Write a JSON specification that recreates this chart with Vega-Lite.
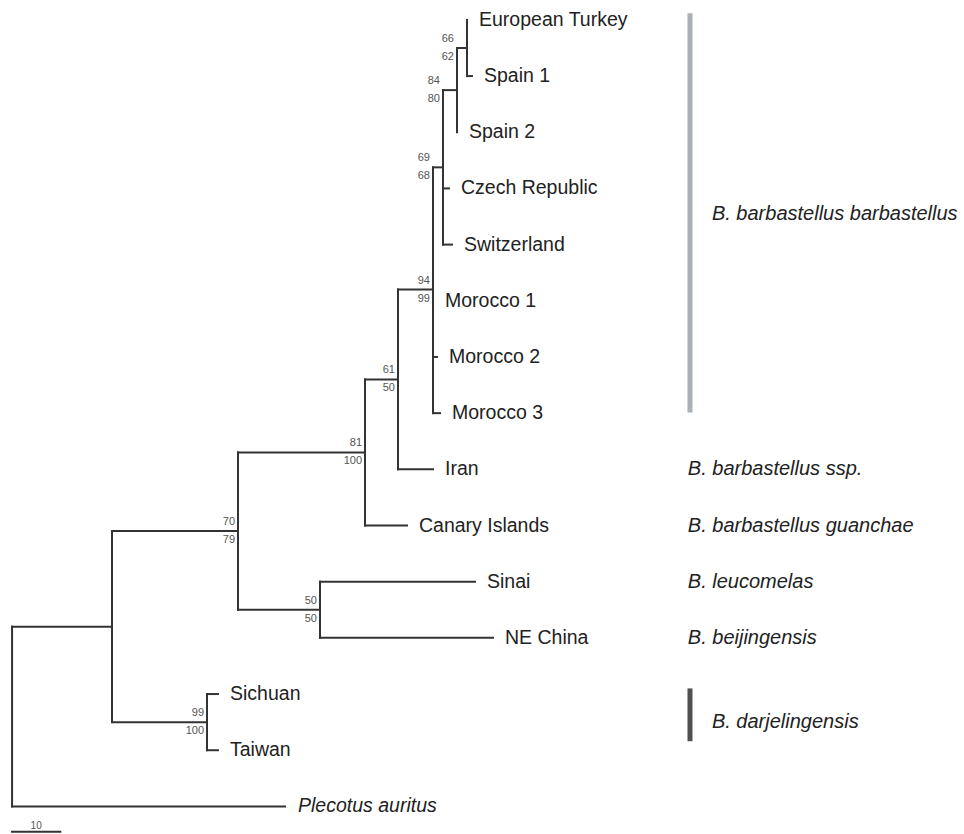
{
  "$schema": "https://vega.github.io/schema/vega-lite/v6.json",
  "width": 964,
  "height": 834,
  "autosize": {"type": "fit", "contains": "padding"},
  "padding": 0,
  "background": "white",
  "config": {"view": {"stroke": null}, "font": "Liberation Sans"},
  "datasets": {
    "segs": [
      {"x": 0, "x2": 0, "y": 10.8, "y2": 14},
      {"x": 0, "x2": 20.74, "y": 10.8, "y2": 10.8},
      {"x": 0, "x2": 56.63, "y": 14, "y2": 14},
      {"x": 20.74, "x2": 20.74, "y": 9.1, "y2": 12.5},
      {"x": 20.74, "x2": 46.88, "y": 9.1, "y2": 9.1},
      {"x": 20.74, "x2": 40.45, "y": 12.5, "y2": 12.5},
      {"x": 40.45, "x2": 40.45, "y": 12, "y2": 13},
      {"x": 40.45, "x2": 42.73, "y": 12, "y2": 12},
      {"x": 40.45, "x2": 42.73, "y": 13, "y2": 13},
      {"x": 46.88, "x2": 46.88, "y": 7.7, "y2": 10.5},
      {"x": 46.88, "x2": 73.23, "y": 7.7, "y2": 7.7},
      {"x": 46.88, "x2": 63.89, "y": 10.5, "y2": 10.5},
      {"x": 63.89, "x2": 63.89, "y": 10, "y2": 11},
      {"x": 63.89, "x2": 96.05, "y": 10, "y2": 10},
      {"x": 63.89, "x2": 99.78, "y": 11, "y2": 11},
      {"x": 73.23, "x2": 73.23, "y": 6.4, "y2": 9},
      {"x": 73.23, "x2": 80.07, "y": 6.4, "y2": 6.4},
      {"x": 73.23, "x2": 81.94, "y": 9, "y2": 9},
      {"x": 80.07, "x2": 80.07, "y": 4.8, "y2": 8},
      {"x": 80.07, "x2": 87.33, "y": 4.8, "y2": 4.8},
      {"x": 80.07, "x2": 87.33, "y": 8, "y2": 8},
      {"x": 87.33, "x2": 87.33, "y": 2.625, "y2": 7},
      {"x": 87.33, "x2": 89.41, "y": 2.625, "y2": 2.625},
      {"x": 87.33, "x2": 88.16, "y": 6, "y2": 6},
      {"x": 87.33, "x2": 88.79, "y": 7, "y2": 7},
      {"x": 89.41, "x2": 89.41, "y": 1.25, "y2": 4},
      {"x": 89.41, "x2": 92.31, "y": 1.25, "y2": 1.25},
      {"x": 89.41, "x2": 90.65, "y": 3, "y2": 3},
      {"x": 89.41, "x2": 91.28, "y": 4, "y2": 4},
      {"x": 92.31, "x2": 92.31, "y": 0.5, "y2": 2},
      {"x": 92.31, "x2": 94.39, "y": 0.5, "y2": 0.5},
      {"x": 94.39, "x2": 94.39, "y": 0, "y2": 1},
      {"x": 94.39, "x2": 95.42, "y": 1, "y2": 1},
      {"x": 0, "x2": 10, "y": 14.45, "y2": 14.45}
    ],
    "tips": [
      {"name": "European Turkey", "x": 94.39, "y": 0, "outgroup": false},
      {"name": "Spain 1", "x": 95.42, "y": 1, "outgroup": false},
      {"name": "Spain 2", "x": 92.31, "y": 2, "outgroup": false},
      {"name": "Czech Republic", "x": 90.65, "y": 3, "outgroup": false},
      {"name": "Switzerland", "x": 91.28, "y": 4, "outgroup": false},
      {"name": "Morocco 1", "x": 87.33, "y": 5, "outgroup": false},
      {"name": "Morocco 2", "x": 88.16, "y": 6, "outgroup": false},
      {"name": "Morocco 3", "x": 88.79, "y": 7, "outgroup": false},
      {"name": "Iran", "x": 87.33, "y": 8, "outgroup": false},
      {"name": "Canary Islands", "x": 81.94, "y": 9, "outgroup": false},
      {"name": "Sinai", "x": 96.05, "y": 10, "outgroup": false},
      {"name": "NE China", "x": 99.78, "y": 11, "outgroup": false},
      {"name": "Sichuan", "x": 42.73, "y": 12, "outgroup": false},
      {"name": "Taiwan", "x": 42.73, "y": 13, "outgroup": false},
      {"name": "Plecotus auritus", "x": 56.63, "y": 14, "outgroup": true}
    ],
    "boots": [
      {"x": 92.31, "y": 0.5, "above": "66", "below": "62"},
      {"x": 89.41, "y": 1.25, "above": "84", "below": "80"},
      {"x": 87.33, "y": 2.625, "above": "69", "below": "68"},
      {"x": 87.33, "y": 4.8, "above": "94", "below": "99"},
      {"x": 80.07, "y": 6.4, "above": "61", "below": "50"},
      {"x": 73.23, "y": 7.7, "above": "81", "below": "100"},
      {"x": 46.88, "y": 9.1, "above": "70", "below": "79"},
      {"x": 63.89, "y": 10.5, "above": "50", "below": "50"},
      {"x": 40.45, "y": 12.5, "above": "99", "below": "100"}
    ],
    "clades": [
      {"name": "B. barbastellus barbastellus", "x": 145.2, "y": 3.45},
      {"name": "B. barbastellus ssp.", "x": 140.2, "y": 8},
      {"name": "B. barbastellus guanchae", "x": 140.2, "y": 9},
      {"name": "B. leucomelas", "x": 140.2, "y": 10},
      {"name": "B. beijingensis", "x": 140.2, "y": 11},
      {"name": "B. darjelingensis", "x": 145.2, "y": 12.5}
    ],
    "bars": [
      {"group": "barbastellus", "x": 140.65, "y": -0.12, "y2": 6.99},
      {"group": "darjelingensis", "x": 140.65, "y": 11.9, "y2": 12.84}
    ],
    "scalebar": [{"label": "10", "x": 5, "y": 14.45}]
  },
  "layer": [
    {
      "data": {"name": "segs"},
      "mark": {"type": "rule", "color": "#333333", "strokeWidth": 2, "strokeCap": "square"},
      "encoding": {
        "x": {"field": "x", "type": "quantitative", "scale": {"domain": [-2.5, 197.5], "nice": false, "zero": false}, "axis": null},
        "x2": {"field": "x2"},
        "y": {"field": "y", "type": "quantitative", "scale": {"domain": [-0.354, 14.42], "nice": false, "zero": false, "reverse": true}, "axis": null},
        "y2": {"field": "y2"}
      }
    },
    {
      "data": {"name": "bars"},
      "transform": [{"filter": "datum.group === 'barbastellus'"}],
      "mark": {"type": "rule", "color": "#aab0b6", "strokeWidth": 5},
      "encoding": {
        "x": {"field": "x", "type": "quantitative"},
        "y": {"field": "y", "type": "quantitative"},
        "y2": {"field": "y2"}
      }
    },
    {
      "data": {"name": "bars"},
      "transform": [{"filter": "datum.group === 'darjelingensis'"}],
      "mark": {"type": "rule", "color": "#505050", "strokeWidth": 5},
      "encoding": {
        "x": {"field": "x", "type": "quantitative"},
        "y": {"field": "y", "type": "quantitative"},
        "y2": {"field": "y2"}
      }
    },
    {
      "data": {"name": "tips"},
      "transform": [{"filter": "!datum.outgroup"}],
      "mark": {"type": "text", "align": "left", "baseline": "middle", "dx": 12, "fontSize": 19.5, "color": "#222"},
      "encoding": {
        "x": {"field": "x", "type": "quantitative"},
        "y": {"field": "y", "type": "quantitative"},
        "text": {"field": "name"}
      }
    },
    {
      "data": {"name": "tips"},
      "transform": [{"filter": "datum.outgroup"}],
      "mark": {"type": "text", "align": "left", "baseline": "middle", "dx": 13, "fontSize": 19.5, "fontStyle": "italic", "color": "#222"},
      "encoding": {
        "x": {"field": "x", "type": "quantitative"},
        "y": {"field": "y", "type": "quantitative"},
        "text": {"field": "name"}
      }
    },
    {
      "data": {"name": "boots"},
      "mark": {"type": "text", "align": "right", "baseline": "middle", "dx": -3, "dy": -9, "fontSize": 11, "color": "#555"},
      "encoding": {
        "x": {"field": "x", "type": "quantitative"},
        "y": {"field": "y", "type": "quantitative"},
        "text": {"field": "above"}
      }
    },
    {
      "data": {"name": "boots"},
      "mark": {"type": "text", "align": "right", "baseline": "middle", "dx": -3, "dy": 9, "fontSize": 11, "color": "#555"},
      "encoding": {
        "x": {"field": "x", "type": "quantitative"},
        "y": {"field": "y", "type": "quantitative"},
        "text": {"field": "below"}
      }
    },
    {
      "data": {"name": "clades"},
      "mark": {"type": "text", "align": "left", "baseline": "middle", "fontSize": 20, "fontStyle": "italic", "color": "#222"},
      "encoding": {
        "x": {"field": "x", "type": "quantitative"},
        "y": {"field": "y", "type": "quantitative"},
        "text": {"field": "name"}
      }
    },
    {
      "data": {"name": "scalebar"},
      "mark": {"type": "text", "align": "center", "baseline": "bottom", "dy": -1, "fontSize": 10, "color": "#555"},
      "encoding": {
        "x": {"field": "x", "type": "quantitative"},
        "y": {"field": "y", "type": "quantitative"},
        "text": {"field": "label"}
      }
    }
  ]
}
